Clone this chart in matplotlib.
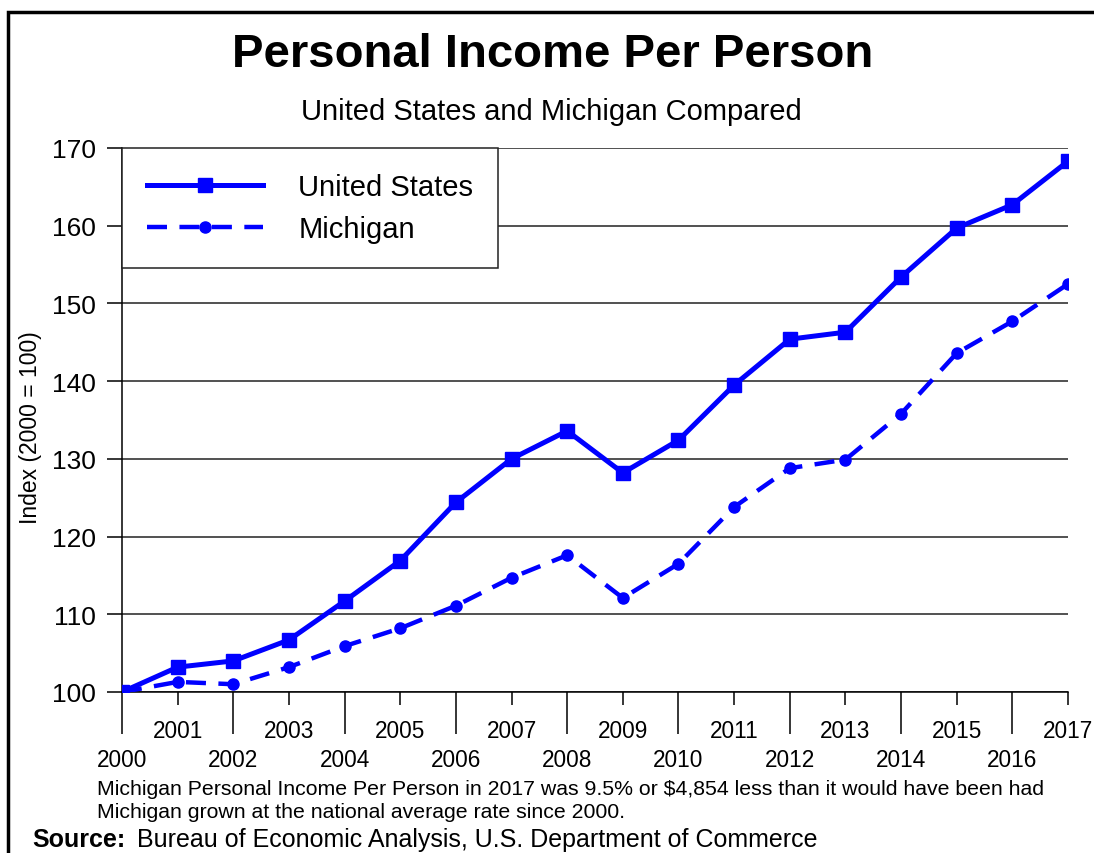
import matplotlib
matplotlib.use("Agg")
import matplotlib.pyplot as plt
from matplotlib.patches import Rectangle
from matplotlib.ticker import FixedLocator

plt.rcParams['font.family'] = ['Liberation Sans', 'DejaVu Sans']

years = list(range(2000, 2018))
us = [100.0, 103.2, 104.0, 106.7, 111.7, 116.9, 124.4, 130.0, 133.6, 128.2,
      132.4, 139.5, 145.4, 146.3, 153.4, 159.7, 162.7, 168.3]
mi = [100.0, 101.3, 101.0, 103.2, 105.9, 108.2, 111.1, 114.7, 117.6, 112.1,
      116.5, 123.8, 128.8, 129.9, 135.8, 143.6, 147.7, 152.5]
yticks = [100, 110, 120, 130, 140, 150, 160, 170]

blue = '#0000ff'

fig = plt.figure(figsize=(10.94, 8.54), dpi=100)
ax = fig.add_axes([122/1094, 1 - 693/854, (1068-122)/1094, (693-149)/854])

ax.plot(years, us, color=blue, lw=3.6, marker='s', ms=9.5, label='United States',
        solid_joinstyle='miter', zorder=4)
ax.plot(years, mi, color=blue, lw=3.2, ls=(0, (4.5, 2.8)), marker='o', ms=8,
        label='Michigan', zorder=4)

ax.set_xlim(2000, 2017)
ax.set_ylim(100, 170)
ax.set_yticks(yticks)
ax.yaxis.grid(True, color='#222222', lw=1.1)
ax.set_axisbelow(True)

# even years on the long ticks, odd years on the short ones
ax.xaxis.set_major_locator(FixedLocator(years[::2]))
ax.xaxis.set_minor_locator(FixedLocator(years[1::2]))
ax.set_xticklabels([str(y) for y in years[::2]])
ax.set_xticklabels([str(y) for y in years[1::2]], minor=True)
ax.tick_params(axis='x', which='major', length=30, width=1.1, pad=10, labelsize=16.3)
ax.tick_params(axis='x', which='minor', length=9.5, width=1.1, pad=10, labelsize=16.3)
ax.tick_params(axis='y', length=11, width=1.1, pad=8, labelsize=19)

for s in ['top', 'right']:
    ax.spines[s].set_visible(False)
ax.spines['left'].set_linewidth(1.1)
ax.spines['bottom'].set_linewidth(1.1)

ax.set_ylabel('Index (2000 = 100)', fontsize=16.5)
ax.yaxis.set_label_coords(-0.085, 0.487)

leg = ax.legend(loc='upper left', bbox_to_anchor=(0, 1), fontsize=21,
                handlelength=4.0, handletextpad=1.2, borderpad=0.85,
                labelspacing=0.5, borderaxespad=0, fancybox=False,
                framealpha=1, edgecolor='#222222', numpoints=1)
leg.get_frame().set_linewidth(1.1)

fig.text(0.505, 1 - 55/854, 'Personal Income Per Person', ha='center', va='center',
         fontsize=34, fontweight='bold')
fig.text(0.504, 1 - 112/854, 'United States and Michigan Compared', ha='center',
         va='center', fontsize=21)
fig.text(97/1094, 1 - 790/854,
         'Michigan Personal Income Per Person in 2017 was 9.5% or $4,854 less than it would have been had',
         ha='left', va='center', fontsize=15.3)
fig.text(97/1094, 1 - 813/854,
         'Michigan grown at the national average rate since 2000.',
         ha='left', va='center', fontsize=15.3)
fig.text(32/1094, 1 - 840/854, 'Source:', ha='left', va='center', fontsize=18,
         fontweight='bold')
fig.text(137/1094, 1 - 840/854, 'Bureau of Economic Analysis, U.S. Department of Commerce',
         ha='left', va='center', fontsize=18)

# outer frame (open at right/bottom like the original)
fig.add_artist(Rectangle((8/1094, -0.05), 1.2, 1 - 13/854 + 0.05,
                         transform=fig.transFigure, fill=False, lw=2.5,
                         edgecolor='black'))

fig.savefig('out.png', dpi=100)
